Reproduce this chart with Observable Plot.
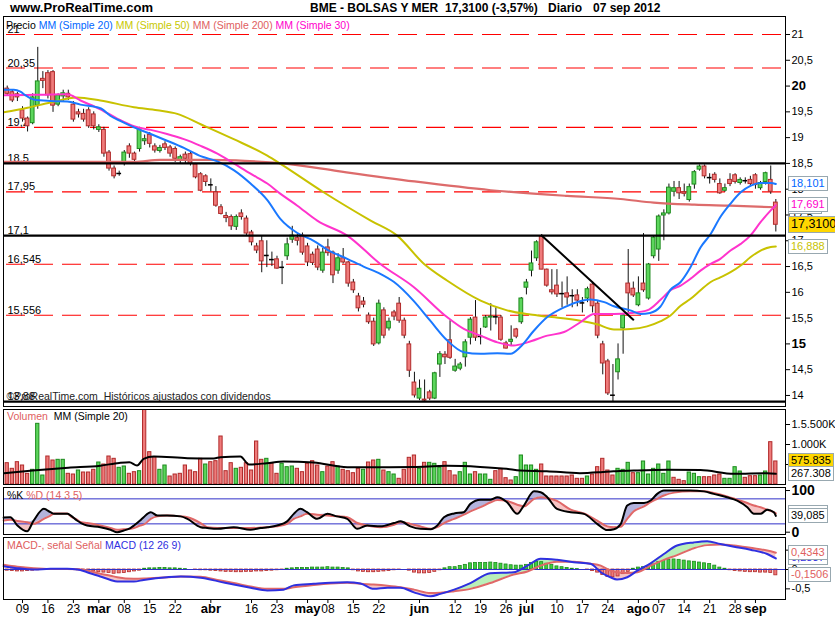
<!DOCTYPE html>
<html><head><meta charset="utf-8">
<script src="https://cdn.jsdelivr.net/npm/d3@7"></script>
<script src="https://cdn.jsdelivr.net/npm/@observablehq/plot@0.6"></script>
<style>
body{margin:0;background:#fff;font-family:Arial,"Liberation Sans",sans-serif;}
#wrap{position:relative;width:835px;height:620px;overflow:hidden;background:#fff;}
.t{position:absolute;white-space:nowrap;font-size:10.5px;line-height:12px;}
.hb{position:absolute;white-space:nowrap;font-size:12px;font-weight:bold;line-height:14px;}
.box{position:absolute;white-space:nowrap;border:1px solid #98a8b0;background:#fff;font-size:11px;padding:0 2px;}
</style></head><body><div id="wrap"></div>
<script>
// ---------------- DATA ----------------
// Daily candles, 6 feb 2012 .. 7 sep 2012 (index = trading day)
const opens = [
19.95,19.88,19.84,19.53,19.37,19.28,19.62,20.14,20.25,20.27,
19.64,19.80,19.85,19.64,19.49,19.46,19.53,19.45,19.15,19.15,
18.71,18.40,18.30,18.51,18.83,18.69,18.78,18.93,19.05,18.83,
18.74,18.87,18.81,18.78,18.55,18.67,18.68,18.48,18.29,18.25,
18.08,17.94,17.65,17.48,17.46,17.27,17.53,17.43,17.16,16.89,
16.99,16.71,16.63,16.64,16.48,16.70,17.02,17.05,17.10,16.89,
16.73,16.83,16.42,16.87,16.77,16.42,16.66,16.58,16.19,15.92,
15.82,15.55,15.43,15.01,15.65,15.30,15.61,15.78,15.45,14.99,
14.25,13.94,13.92,14.06,13.94,14.60,14.79,15.07,14.48,14.52,
14.74,15.12,15.51,15.14,15.32,15.51,15.51,15.51,15.01,15.04,
15.28,15.42,16.09,16.42,16.66,17.08,16.44,16.04,16.13,15.97,
15.98,15.93,15.94,15.79,15.88,16.15,15.78,14.99,14.66,14.00,
14.45,15.30,16.17,16.07,15.75,16.17,15.88,16.70,16.83,17.49,
17.53,17.95,18.02,17.94,17.79,18.09,18.38,18.44,18.22,18.28,
18.10,17.97,18.18,18.27,18.12,18.16,18.18,18.27,18.02,18.14,
18.18,17.74];
const highs = [
20.00,19.92,19.88,19.60,19.40,19.85,20.75,20.28,20.30,20.30,
19.85,19.92,19.92,19.70,19.55,19.55,19.58,19.50,19.25,19.20,
18.75,18.45,18.35,18.75,18.88,18.72,19.20,19.05,19.10,18.88,
18.85,18.92,18.85,18.82,18.66,18.72,18.72,18.50,18.32,18.28,
18.20,18.05,17.70,17.55,17.50,17.50,17.60,17.48,17.20,16.95,
17.10,17.00,16.78,16.70,16.60,17.05,17.28,17.12,17.15,16.95,
16.78,16.90,16.85,17.03,16.80,16.75,16.85,16.60,16.25,15.98,
15.90,15.60,15.50,15.85,15.70,15.50,15.65,15.90,15.50,15.05,
14.45,14.30,14.30,14.10,14.45,14.85,14.85,15.45,14.70,14.64,
15.08,15.51,15.84,15.30,15.55,15.78,15.70,15.55,15.05,15.35,
15.30,15.90,16.25,16.80,17.00,17.12,16.45,16.44,16.44,16.20,
16.30,16.05,16.05,15.90,16.10,16.20,15.82,15.05,14.70,14.60,
15.00,15.58,16.83,16.20,16.30,17.14,16.56,17.10,17.50,17.60,
18.10,18.15,18.15,18.10,18.10,18.36,18.47,18.47,18.30,18.32,
18.20,18.10,18.30,18.30,18.22,18.22,18.25,18.30,18.15,18.33,
18.45,17.80];
const lows = [
19.80,19.68,19.70,19.30,19.11,19.25,19.55,19.95,19.75,19.49,
19.60,19.70,19.72,19.30,19.38,19.30,19.18,19.15,19.10,18.62,
18.35,18.20,18.25,18.45,18.60,18.52,18.72,18.85,18.80,18.70,
18.70,18.75,18.62,18.52,18.48,18.50,18.45,18.20,17.95,18.05,
17.95,17.65,17.50,17.35,17.20,17.20,17.40,17.10,16.90,16.75,
16.38,16.48,16.50,16.45,16.15,16.62,16.95,16.90,16.72,16.50,
16.52,16.42,16.37,16.70,16.17,16.35,16.55,16.10,15.98,15.62,
15.70,15.38,14.95,14.98,15.10,15.25,15.45,15.40,15.10,14.35,
13.95,13.90,13.88,13.90,13.92,14.35,14.60,14.70,14.45,14.48,
14.55,14.98,15.05,14.98,15.30,15.25,15.37,15.05,14.90,14.96,
15.10,15.38,15.95,16.30,16.60,16.44,16.10,15.95,15.90,15.70,
15.75,15.70,15.72,15.60,15.80,15.60,15.10,14.40,14.00,13.88,
14.30,14.80,15.60,15.90,15.72,16.00,15.85,16.65,16.60,17.00,
17.50,17.85,17.80,17.85,17.75,18.00,18.35,18.20,18.10,18.12,
17.90,17.94,18.05,18.10,18.08,18.10,18.05,18.00,17.98,18.08,
17.90,17.17];
const closes = [
19.85,19.72,19.78,19.37,19.22,19.78,20.09,20.10,19.82,19.62,
19.82,19.86,19.78,19.35,19.45,19.35,19.22,19.22,19.20,18.69,
18.40,18.25,18.29,18.71,18.69,18.57,19.18,18.97,18.88,18.75,
18.80,18.80,18.69,18.59,18.62,18.59,18.49,18.23,17.97,18.14,
18.07,17.68,17.52,17.44,17.28,17.46,17.46,17.14,16.97,16.81,
16.60,16.70,16.62,16.46,16.47,16.93,17.10,17.00,16.77,16.58,
16.57,16.48,16.77,16.76,16.33,16.66,16.58,16.17,16.04,15.69,
15.76,15.42,14.99,15.78,15.16,15.43,15.53,15.45,15.16,14.48,
14.00,14.13,13.90,13.94,14.43,14.80,14.74,14.73,14.56,14.60,
15.03,15.47,15.12,15.13,15.51,15.53,15.52,15.08,14.91,15.08,
15.14,15.88,16.19,16.56,16.97,16.44,16.13,16.00,15.96,15.96,
15.90,15.92,15.84,15.78,16.06,15.73,15.16,14.62,14.04,13.99,
14.70,15.55,15.98,15.94,15.98,16.04,16.54,17.06,17.47,17.53,
18.03,18.02,17.92,17.91,18.04,18.33,18.44,18.25,18.21,18.18,
17.92,18.02,18.10,18.14,18.18,18.15,18.10,18.08,18.12,18.31,
17.95,17.31];

// Moving averages [trading-day index, value]
const sma20 = [[-0.7,19.93],[1.3,19.93],[2.6,19.89],[3.6,19.82],[5.2,19.74],[8.5,19.71],[11.8,19.7],[14.4,19.64],[18.3,19.57],[20.3,19.42],[22.3,19.32],[24.9,19.2],[28.2,19.07],[31.4,18.94],[34.7,18.8],[38,18.64],[41.3,18.54],[44.5,18.37],[47.8,18.11],[51.1,17.79],[53.7,17.42],[57,17.15],[60.2,17.0],[63,16.82],[66.8,16.65],[70,16.5],[73.3,16.36],[76,16.2],[79.8,15.84],[83.1,15.45],[86.4,15.07],[89.7,14.84],[93,14.81],[96.3,14.82],[98.9,14.81],[100.8,14.94],[103.5,15.26],[106.1,15.52],[109.4,15.71],[112.7,15.83],[114.6,15.86],[117.3,15.81],[119.2,15.73],[122.4,15.65],[124.4,15.58],[126.3,15.6],[128.3,15.72],[130.3,16.05],[132.3,16.2],[134.2,16.48],[136.2,16.87],[138.2,17.13],[140.1,17.46],[142.1,17.72],[144.1,17.94],[146.1,18.07],[148,18.12],[150,18.12],[151,18.10]];
const sma30 = [[-0.7,19.82],[5.2,19.83],[11.8,19.84],[14.4,19.72],[18.3,19.55],[21.6,19.37],[24.9,19.22],[28.2,19.15],[31.4,19.07],[34.7,18.97],[38,18.84],[41.3,18.69],[44.5,18.5],[47.8,18.3],[51.1,18.11],[53.7,17.91],[57,17.68],[60.9,17.39],[66.8,17.10],[73.3,16.55],[79.9,16.10],[86.4,15.52],[89.7,15.29],[93,15.16],[96.3,15.03],[99.5,14.97],[102.2,15.03],[106.1,15.16],[109.4,15.23],[112.6,15.42],[115.3,15.58],[119.2,15.58],[122.5,15.60],[125.7,15.65],[128.4,15.86],[130.3,16.04],[132.3,16.13],[134.2,16.26],[136.2,16.42],[138.2,16.55],[140.1,16.65],[142.1,16.81],[144.1,16.94],[146,17.10],[148,17.36],[150,17.59],[151,17.69]];
const sma50 = [[-0.7,19.49],[4,19.58],[8.5,19.68],[13.7,19.78],[18.3,19.72],[24.9,19.59],[29.5,19.53],[33.4,19.46],[38,19.26],[44.5,18.97],[51.1,18.65],[53.7,18.49],[62,17.95],[71.4,17.39],[76.6,17.10],[81.9,16.55],[86.4,16.23],[93,15.84],[98.2,15.65],[102.8,15.57],[106.1,15.53],[112.6,15.45],[115.9,15.38],[119.2,15.28],[122.5,15.29],[125.7,15.34],[128.4,15.44],[130.3,15.55],[132.3,15.74],[134.2,15.87],[136.2,16.04],[138.2,16.20],[140.1,16.29],[142.1,16.39],[144.1,16.52],[146,16.68],[148,16.81],[150,16.88],[151,16.89]];
const sma200 = [[-0.7,18.53],[25,18.53],[30,18.57],[40,18.57],[45,18.56],[50,18.53],[55,18.49],[65,18.35],[80,18.15],[95,17.98],[110,17.87],[120.5,17.81],[127,17.74],[135,17.70],[142,17.68],[151,17.65]];

// Horizontal levels drawn on the price panel
const dashLevels = [21, 20.35, 19.2, 17.95, 16.545, 15.556];
const dashLabels = ["21", "20,35", "19,2", "17,95", "16,545", "15,556"];
const solidLevels = [18.5, 17.1, 13.88];
const solidLabels = ["18,5", "17,1", "13,88"];
const trendLine = [[105, 17.1], [123, 15.47]];
const priceTicks = [21, 20.5, 19.5, 19, 18.5, 18, 17.5, 17, 16.5, 16, 15.5, 14.5, 14];
const priceTicksBold = [20, 15];

// Volume (thousands) and its 20-day average
const volumes = [
533,392,558,475,267,367,1517,225,700,600,
617,617,267,250,350,300,300,367,550,500,
700,642,417,450,267,308,333,1900,808,683,
367,475,200,250,267,475,350,308,642,500,
558,583,1200,333,533,392,417,533,350,1075,
617,642,517,267,517,433,450,392,308,517,
583,475,308,450,558,450,367,333,283,392,
367,550,600,617,350,308,250,142,367,667,
725,392,542,542,517,417,558,333,225,308,
542,250,308,250,250,117,333,392,158,100,
183,725,475,475,367,500,200,200,200,200,
200,225,142,142,200,250,433,642,350,225,
392,367,542,283,283,575,250,392,500,267,
575,167,117,83,300,267,183,183,183,225,
250,142,142,433,325,167,208,208,225,325,
1058,576];
const volDir = ("RRRRRGGGRR"+"GGRRGRRRGR"+"RRGGRRGRRR"+"GGRRRRRRRG"+"RRRRRGRRRR"+"RGRRGGGRRR"+"RRGRRGRRRR"+"GRRGRGGRRR"+"RGRGGGRRRG"+"GGRGGGRRRR"+"GGGGGRRRRR"+"RRRRGRRRRR"+"GGGRGGGGGG"+"GRRRGGGRRR"+"RGGGGRRRGG"+"RR").split("");
const volMA = [[-0.7,283],[5,350],[12,420],[18.3,470],[22,540],[24,558],[25.5,475],[26.8,642],[28.8,700],[35.4,658],[40.6,650],[41.9,683],[45.8,700],[47.5,500],[51,533],[54.3,575],[60.2,550],[66.8,433],[73.3,433],[79.8,440],[86.4,467],[92.9,440],[98.1,392],[100.8,350],[106,333],[112.5,283],[116.6,308],[119.1,333],[123.1,350],[129.7,367],[136.2,360],[142.8,267],[149.3,283],[151,267]];
const volTicks = [1500, 1000, 500];

// Stochastic %K / %D (14 3 5)
const stochIdx = [-0.7,0.6,2,3.9,5.2,7.2,8.5,9.2,11.8,12.5,13.7,14.5,15.7,18.3,20.3,21.6,22.9,24.2,24.9,26.1,26.8,28.2,29.5,31.4,34.1,35.4,38,39.3,41.3,44.5,47.8,49.8,51.1,53,55,56.3,57.6,58.9,60.9,62.9,64.8,66.8,68.8,70.7,73.3,76,77.3,79.2,81.2,83.2,84.5,85.8,87.8,89.7,91,93,95,96.3,98.2,100.2,101.5,103.5,104.8,106.1,108,110.7,113.3,115.9,117.9,119.2,120.5,121.8,123.1,125.1,126.4,127.7,129,131,134.2,136.9,138.8,141.4,143.4,145.4,146.7,148,149.3,150.6,151];
const stochK = [35,36,16,2,28,56,48,44,44,40,28,22,16,12,6,0,4,10,16,28,36,48,40,40,38,32,12,10,8,12,6,10,12,16,26,44,56,48,32,44,38,32,8,16,14,22,26,14,8,7,16,36,45,48,68,78,78,84,72,44,64,98,96,84,56,48,44,20,5,7,19,64,70,70,76,92,100,100,100,98,92,84,76,60,44,44,54,48,39.085];
const stochD = [28,30,27,24,20,32,40,45,45,38,30,24,22,16,10,6,7,8,10,16,18,32,38,40,38,36,22,12,10,10,10,11,12,14,20,32,38,44,42,40,38,36,22,16,12,18,24,20,14,8,12,22,32,42,50,60,72,77,75,66,62,80,84,82,75,54,45,28,14,12,13,32,50,62,72,80,88,95,98,98,94,86,78,70,64,60,54,48,45];
const stochLevels = [80, 20];

// MACD (12 26 9)
const macdIdx = [-0.7,2,5.2,8.5,11.8,13.8,15.7,18.3,20.3,21.6,24.9,26.8,31.4,34.1,38,41.3,44.5,47.8,51.1,54.3,56.3,60.2,63.5,66.8,69.4,72,74.7,77.3,79.9,83.2,85.1,87.8,91,94.9,99.5,102.2,104.8,108,111.3,114.6,116.6,118.5,119.8,121.8,123.8,126.4,129,131.6,134.9,137.5,140.1,142.8,146,149.3,151];
const macdLine = [0.086,0.034,0,0.017,0.017,0,-0.069,-0.18,-0.27,-0.31,-0.31,-0.27,-0.2,-0.18,-0.215,-0.3,-0.39,-0.47,-0.54,-0.52,-0.41,-0.37,-0.34,-0.33,-0.36,-0.5,-0.47,-0.47,-0.59,-0.69,-0.63,-0.52,-0.35,-0.095,-0.07,0.10,0.28,0.25,0.19,0.15,-0.07,-0.2,-0.26,-0.2,-0.03,0.16,0.4,0.62,0.7,0.73,0.66,0.59,0.51,0.4,0.285];
const macdSignal = [0.12,0.07,0.03,0.01,0.01,0.005,-0.026,-0.11,-0.16,-0.2,-0.24,-0.235,-0.2,-0.18,-0.19,-0.27,-0.35,-0.44,-0.5,-0.5,-0.46,-0.4,-0.36,-0.34,-0.37,-0.39,-0.42,-0.46,-0.52,-0.61,-0.6,-0.56,-0.5,-0.35,-0.13,-0.05,0.1,0.2,0.2,0.15,0.1,-0.03,-0.07,-0.09,-0.07,0.1,0.25,0.37,0.55,0.63,0.645,0.62,0.56,0.49,0.4343];
const macdHist = [
-0.03,-0.04,-0.05,-0.05,-0.04,-0.03,-0.02,0.0,0.01,0.01,
0.01,0.0,0.0,-0.01,-0.02,-0.03,-0.04,-0.05,-0.07,-0.08,
-0.09,-0.11,-0.10,-0.09,-0.07,-0.05,-0.03,0.02,0.03,0.03,
0.04,0.04,0.03,0.03,0.02,0.01,0.0,-0.01,-0.02,-0.02,
-0.03,-0.04,-0.05,-0.06,-0.06,-0.07,-0.07,-0.06,-0.06,-0.05,
-0.05,-0.04,-0.03,-0.02,-0.01,0.02,0.03,0.04,0.04,0.04,
0.05,0.05,0.05,0.06,0.05,0.05,0.04,0.03,-0.02,-0.05,
-0.06,-0.07,-0.07,-0.06,-0.05,-0.04,-0.02,-0.01,0.0,-0.03,
-0.08,-0.1,-0.1,-0.09,-0.06,-0.02,0.03,0.06,0.06,0.09,
0.12,0.16,0.17,0.17,0.17,0.18,0.17,0.15,0.13,0.11,
0.1,0.1,0.12,0.17,0.2,0.19,0.15,0.12,0.08,0.06,
0.04,0.02,0.01,0.0,-0.01,-0.04,-0.08,-0.14,-0.19,-0.2,
-0.18,-0.12,-0.06,0.02,0.05,0.06,0.07,0.13,0.19,0.22,
0.25,0.26,0.25,0.23,0.21,0.2,0.18,0.16,0.14,0.1,
0.05,0.02,-0.02,-0.04,-0.05,-0.06,-0.07,-0.07,-0.08,-0.08,
-0.09,-0.1506];
const macdTicks = [0.5, 0, -0.5];

// Date axis (trading-day index -> label)
const tickIdx  = [3,8,13,18,23,28,33,40,48,53,59,63,68,73,81,88,93,98,102,108,113,118,124,128,133,138,143,147];
const tickText = ["09","16","23","mar","08","15","22","abr","16","23","may","08","15","22","jun","12","19","26","jul","10","17","24","ago","07","14","21","28","sep"];

// ---------------- DRAWING ----------------
const wrap = document.getElementById("wrap");
const W = 835, XL = 3, XR = 785;
const xDom = [-0.73, 152.9];
const FONT = "Arial, 'Liberation Sans', sans-serif";
const UPF = "#5cd65c", UPS = "#1d8a1d", DNF = "#ef7b7b", DNS = "#b02a2a";
const comma = v => String(v).replace(".", ",");

function panel(top, bottom, yDom, marks, extraBottom = 0, withX = false) {
  const chart = Plot.plot({
    width: W, height: bottom - top + 2 + extraBottom,
    marginLeft: XL, marginRight: W - XR, marginTop: 1, marginBottom: 1 + extraBottom,
    x: withX ? {domain: xDom} : {domain: xDom, axis: null},
    y: {domain: yDom},
    style: {fontFamily: FONT, fontSize: "11px", background: "transparent", overflow: "visible", color: "#000"},
    marks
  });
  chart.style.position = "absolute";
  chart.style.left = "0px";
  chart.style.top = (top - 1) + "px";
  wrap.appendChild(chart);
  chart._top = top - 1;
  return chart;
}
function rightAxis(ticks, fmt, extra = {}) {
  return Plot.axisY({anchor: "right", ticks, tickFormat: fmt, tickSize: 4, tickPadding: 2, fontSize: 11, label: null, stroke: "#000", ...extra});
}

const candles = opens.map((o, i) => ({i, o, h: highs[i], l: lows[i], c: closes[i]}));
const isDoji = d => Math.abs(d.c - d.o) < 0.015;

// ---- price panel ----
const main = panel(16, 406, [13.786, 21.349], [
  Plot.ruleY(dashLevels, {stroke: "#ff0000", strokeWidth: 1.2, strokeDasharray: "19,9", strokeDashoffset: 25}),
  Plot.text(dashLevels.map((v, k) => ({v, t: dashLabels[k]})).concat(solidLevels.map((v, k) => ({v, t: solidLabels[k]}))),
    {y: "v", text: "t", frameAnchor: "left", dx: 4, dy: -5, textAnchor: "start", fontSize: 11, fill: "#000"}),
  Plot.text(["©ProRealTime.com  Históricos ajustados con dividendos"], {text: d => d, frameAnchor: "bottom-left", dx: 3, dy: -7, textAnchor: "start", fontSize: 10.5, fill: "#222"}),
  Plot.ruleX(candles, {x: "i", y1: "l", y2: "h", stroke: "#111", strokeWidth: 1, clip: true}),
  Plot.rect(candles, {x1: d => d.i - 0.37, x2: d => d.i + 0.37, y1: "o", y2: "c",
    fill: d => d.c >= d.o ? UPF : DNF, stroke: d => isDoji(d) ? "#000" : (d.c >= d.o ? UPS : DNS), strokeWidth: 1, clip: true}),
  Plot.line(sma200, {x: d => d[0], y: d => d[1], stroke: "#dd6b6b", strokeWidth: 2.2, curve: "monotone-x", clip: true}),
  Plot.line(sma50, {x: d => d[0], y: d => d[1], stroke: "#c8c200", strokeWidth: 2, curve: "monotone-x", clip: true}),
  Plot.line(sma30, {x: d => d[0], y: d => d[1], stroke: "#ff33cc", strokeWidth: 2, curve: "monotone-x", clip: true}),
  Plot.line(sma20, {x: d => d[0], y: d => d[1], stroke: "#1a78ff", strokeWidth: 2, curve: "monotone-x", clip: true}),
  Plot.ruleY(solidLevels, {stroke: "#000", strokeWidth: 2.2}),
  Plot.line(trendLine, {x: d => d[0], y: d => d[1], stroke: "#000", strokeWidth: 2}),
  Plot.frame({stroke: "#000", strokeWidth: 1}),
  rightAxis(priceTicks, d => comma(d)),
  rightAxis(priceTicksBold, d => comma(d), {fontSize: 13, fontWeight: "bold"})
]);

// ---- volume panel ----
const vol = volumes.map((v, i) => ({i, v, up: volDir[i] === "G"}));
const volP = panel(409, 484, [0, 1875], [
  Plot.rect(vol, {x1: d => d.i - 0.32, x2: d => d.i + 0.32, y1: 0, y2: "v",
    fill: d => d.up ? UPF : DNF, stroke: d => d.up ? UPS : DNS, strokeWidth: 1, clip: true}),
  Plot.line(volMA, {x: d => d[0], y: d => d[1], stroke: "#000", strokeWidth: 2, curve: "monotone-x", clip: true}),
  Plot.frame({stroke: "#000"}),
  rightAxis(volTicks, d => d >= 1000 ? (d / 1000) + "." + String(d % 1000).padStart(3, "0") + "K" : d + "K")
]);

// ---- stochastic panel ----
const st = stochIdx.map((x, k) => ({x, k: stochK[k], d: stochD[k]}));
const stP = panel(487, 534, [-5.52, 107.3], [
  Plot.areaY(st, {x: "x", y1: "d", y2: r => Math.max(r.k, r.d), fill: "#b3b3dc", curve: "monotone-x"}),
  Plot.areaY(st, {x: "x", y1: "d", y2: r => Math.min(r.k, r.d), fill: "#f6c4c4", curve: "monotone-x"}),
  Plot.ruleY(stochLevels, {stroke: "#3030c8", strokeWidth: 1}),
  Plot.line(st, {x: "x", y: "d", stroke: "#e06868", strokeWidth: 2, curve: "monotone-x"}),
  Plot.line(st, {x: "x", y: "k", stroke: "#000", strokeWidth: 2, curve: "monotone-x"}),
  Plot.frame({stroke: "#000"}),
  rightAxis([100, 0], d => String(d), {fontSize: 14, fontWeight: "bold"})
]);

// ---- MACD panel ----
const md = macdIdx.map((x, k) => ({x, m: macdLine[k], s: macdSignal[k]}));
const hist = macdHist.map((h, i) => ({i, h}));
const tickRows = tickIdx.map((x, k) => ({x, t: tickText[k], bold: isNaN(+tickText[k])}));
const mdP = panel(537, 599, [-0.775, 0.827], [
  Plot.areaY(md, {x: "x", y1: "s", y2: r => Math.max(r.m, r.s), fill: "#b9efb9", curve: "monotone-x"}),
  Plot.areaY(md, {x: "x", y1: "s", y2: r => Math.min(r.m, r.s), fill: "#f6c4c4", curve: "monotone-x"}),
  Plot.rect(hist, {x1: d => d.i - 0.3, x2: d => d.i + 0.3, y1: 0, y2: "h",
    fill: d => d.h >= 0 ? "#3fcf3f" : DNF, stroke: d => d.h >= 0 ? UPS : DNS, strokeWidth: 0.8}),
  Plot.ruleY([0], {stroke: "#3030c8", strokeWidth: 1}),
  Plot.line(md, {x: "x", y: "s", stroke: "#e06868", strokeWidth: 2, curve: "monotone-x"}),
  Plot.line(md, {x: "x", y: "m", stroke: "#2f2fe0", strokeWidth: 2, curve: "monotone-x"}),
  Plot.frame({stroke: "#000"}),
  rightAxis(macdTicks, d => comma(d)),
  Plot.axisX({anchor: "bottom", ticks: tickIdx, tickFormat: () => "", tickSize: 4, label: null}),
  Plot.text(tickRows.filter(r => !r.bold), {x: "x", text: "t", frameAnchor: "bottom", dy: 13, fontSize: 12, fill: "#000"}),
  Plot.text(tickRows.filter(r => r.bold), {x: "x", text: "t", frameAnchor: "bottom", dy: 13, fontSize: 13, fontWeight: "bold", fill: "#000"})
], 20, true);

// ---------------- TEXT OVERLAYS ----------------
function addText(cls, left, top, html) {
  const el = document.createElement("div");
  el.className = cls; el.style.left = left + "px"; el.style.top = top + "px"; el.innerHTML = html;
  wrap.appendChild(el); return el;
}
addText("hb", 10, 1, "www.ProRealTime.com").style.fontSize = "13px";
addText("hb", 310, 1, "BME - BOLSAS Y MER");
addText("hb", 445, 1, "17,3100 (-3,57%)");
addText("hb", 548, 1, "Diario");
addText("hb", 593, 1, "07 sep 2012");

addText("t", 6, 19, '<span style="color:#000">Precio</span> <span style="color:#0066ff">MM (Simple 20)</span> <span style="color:#c8c800">MM (Simple 50)</span> <span style="color:#e06060">MM (Simple 200)</span> <span style="color:#ff00cc">MM (Simple 30)</span>');
addText("t", 7, 410, '<span style="color:#e06060">Volumen</span>&nbsp; <span style="color:#000">MM (Simple 20)</span>');
addText("t", 7, 489, '<span style="color:#000">%K</span> <span style="color:#e06060">%D (14 3 5)</span>');
addText("t", 7, 539, '<span style="color:#e06060">MACD-, señal Señal</span> <span style="color:#2f2fe0">MACD (12 26 9)</span>');

function valueBox(chart, v, text, color, bg, fs = 11) {
  const y = chart._top + chart.scale("y").apply(v);
  const h = fs + 2;
  const el = document.createElement("div");
  el.className = "box";
  el.style.left = "788px";
  el.style.top = (y - h / 2 - 1) + "px";
  el.style.height = h + "px";
  el.style.lineHeight = h + "px";
  el.style.fontSize = fs + "px";
  el.style.color = color;
  el.style.background = bg;
  el.textContent = text;
  wrap.appendChild(el);
}
valueBox(main, 18.101, "18,101", "#0066ff", "#fff");
valueBox(main, 17.65, "17,65", "#dd6b6b", "#fff");
valueBox(main, 17.691, "17,691", "#ff00cc", "#fff");
valueBox(main, 17.31, "17,3100", "#000", "#ffd700", 12.5);
valueBox(main, 16.888, "16,888", "#c8c200", "#fff");
valueBox(volP, 575.835, "575.835", "#000", "#ffd700");
valueBox(volP, 267.308, "267.308", "#000", "#fff");
valueBox(stP, 45, "45,120", "#e06060", "#fff");
valueBox(stP, 39.085, "39,085", "#000", "#fff");
valueBox(mdP, 0.285, "0,2837", "#2f2fe0", "#fff");
valueBox(mdP, 0.4343, "0,4343", "#e06060", "#fff");
valueBox(mdP, -0.1506, "-0,1506", "#e06060", "#fff");
</script></body></html>
